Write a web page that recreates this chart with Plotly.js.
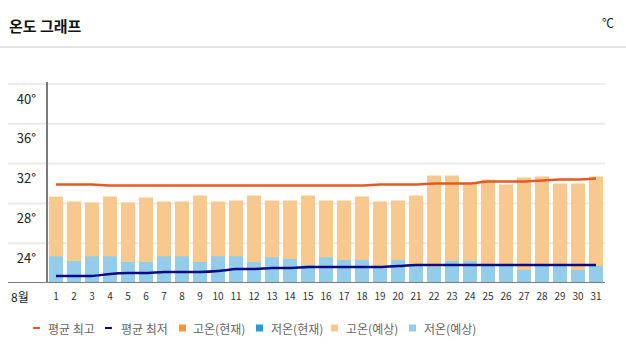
<!DOCTYPE html>
<html>
<head>
<meta charset="utf-8">
<script src="https://cdn.plot.ly/plotly-3.0.1.min.js"></script>
<style>html,body{margin:0;padding:0;background:#fff;}#chart{width:626px;height:357px;}</style>
</head>
<body>
<div id="chart"></div>
<script>
// ---- data ----
var days = [1,2,3,4,5,6,7,8,9,10,11,12,13,14,15,16,17,18,19,20,21,22,23,24,25,26,27,28,29,30,31];
var highForecast = [28.7,28.2,28.1,28.7,28.1,28.6,28.2,28.2,28.8,28.2,28.3,28.8,28.3,28.3,28.8,28.3,28.3,28.7,28.2,28.3,28.8,30.8,30.8,30.0,30.4,29.9,30.6,30.7,30.0,30.0,30.7];
var lowForecast  = [22.7,22.2,22.7,22.7,22.1,22.1,22.7,22.7,22.1,22.7,22.7,22.1,22.6,22.4,21.8,22.6,22.3,22.3,21.7,22.3,21.8,21.6,22.2,22.2,21.7,21.7,21.3,21.7,21.7,21.3,21.7];
var avgHigh = [29.9,29.9,29.9,29.8,29.8,29.8,29.8,29.8,29.8,29.8,29.8,29.8,29.8,29.8,29.8,29.8,29.8,29.8,29.9,29.9,29.9,30.0,30.0,30.0,30.2,30.2,30.2,30.3,30.4,30.4,30.5];
var avgLow  = [20.7,20.7,20.7,20.9,21.0,21.0,21.1,21.1,21.1,21.2,21.4,21.4,21.5,21.5,21.6,21.6,21.6,21.6,21.6,21.7,21.8,21.8,21.8,21.8,21.8,21.8,21.8,21.8,21.8,21.8,21.8];
var highNow = [];
var lowNow = [];
var yTicks = [20,24,28,32,36,40];
var yTickText = ['','24°','28°','32°','36°','40°'];
var dayLabels = days.map(String);
var title = '온도 그래프';
var unit = '℃';
var monthLabel = '8월';
var legendNames = ['평균 최고','평균 최저','고온(현재)','저온(현재)','고온(예상)','저온(예상)'];

// ---- styles ----
var C = {avgHigh:'#E35B24', avgLow:'#0B0B85', highNow:'#F7983F', lowNow:'#2C9AD5', highFc:'#F8C98F', lowFc:'#94CDEA'};
var W = 626, H = 357, L = 47, R = 605, T = 82, B = 283;
var yMax = 40.2;
function px(x){return (x-L)/(R-L);}
function py(y){return (B-y)/(B-T);}
var font = 'Noto Sans CJK KR, Noto Sans, sans-serif';

var traces = [
  {type:'bar', x:days, y:highForecast, marker:{color:C.highFc}, width:0.78, showlegend:false, hoverinfo:'skip'},
  {type:'bar', x:days, y:lowForecast, marker:{color:C.lowFc}, width:0.78, showlegend:false, hoverinfo:'skip'},
  {type:'bar', x:highNow.map(function(v,i){return days[i];}), y:highNow, marker:{color:C.highNow}, width:0.78, showlegend:false},
  {type:'bar', x:lowNow.map(function(v,i){return days[i];}), y:lowNow, marker:{color:C.lowNow}, width:0.78, showlegend:false},
  {type:'scatter', mode:'lines', x:days, y:avgHigh, line:{color:C.avgHigh, width:2.5, shape:'spline', smoothing:0.5}, showlegend:false},
  {type:'scatter', mode:'lines', x:days, y:avgLow, line:{color:C.avgLow, width:2.5, shape:'spline', smoothing:0.5}, showlegend:false}
];

var shapes = [];
var annotations = [];
// separator under title
shapes.push({type:'line', xref:'paper', yref:'paper', x0:px(0), x1:px(W), y0:py(47), y1:py(47), line:{color:'#dcdcdc', width:1.5}});
// gridlines
yTicks.forEach(function(v){
  if (v === yTicks[0]) return;
  shapes.push({type:'line', xref:'paper', yref:'y', x0:px(8), x1:1, y0:v, y1:v, line:{color:'#ececec', width:2}, layer:'below'});
});
// bottom axis line
shapes.push({type:'line', xref:'paper', yref:'y', x0:px(8), x1:1, y0:yTicks[0], y1:yTicks[0], line:{color:'#7a7a7a', width:2}, layer:'above'});
// left axis line
shapes.push({type:'line', xref:'paper', yref:'paper', x0:0, x1:0, y0:0, y1:1, line:{color:'#7a7a7a', width:2}, layer:'above'});

annotations.push({xref:'paper', yref:'paper', x:px(7), y:py(25), xanchor:'left', yanchor:'middle', text:'<b>'+title+'</b>', showarrow:false, font:{family:font, size:15, color:'#111'}});
annotations.push({xref:'paper', yref:'paper', x:px(616), y:py(22), xanchor:'right', yanchor:'middle', text:unit, showarrow:false, font:{family:font, size:12, color:'#222'}});
annotations.push({xref:'paper', yref:'paper', x:px(20), y:py(296), xanchor:'center', yanchor:'middle', text:monthLabel, showarrow:false, font:{family:font, size:12, color:'#222'}});

// custom legend
var legY = 328;
var legItems = [
  {kind:'dash', color:C.avgHigh, mx:33, tx:46},
  {kind:'dash', color:C.avgLow, mx:105, tx:119},
  {kind:'sq', color:C.highNow, mx:179, tx:191},
  {kind:'sq', color:C.lowNow, mx:256, tx:269},
  {kind:'sq', color:C.highFc, mx:331, tx:344},
  {kind:'sq', color:C.lowFc, mx:409, tx:422}
];
legItems.forEach(function(it, i){
  if (it.kind === 'dash') {
    shapes.push({type:'line', xref:'paper', yref:'paper', x0:px(it.mx), x1:px(it.mx+7), y0:py(legY), y1:py(legY), line:{color:it.color, width:2}});
  } else {
    shapes.push({type:'rect', xref:'paper', yref:'paper', x0:px(it.mx), x1:px(it.mx+7), y0:py(legY+3.5), y1:py(legY-3.5), line:{width:0}, fillcolor:it.color});
  }
  annotations.push({xref:'paper', yref:'paper', x:px(it.tx), y:py(legY), xanchor:'left', yanchor:'middle', text:legendNames[i], showarrow:false, font:{family:font, size:12, color:'#666'}});
});

var layout = {
  width:W, height:H,
  margin:{l:L, r:W-R, t:T, b:H-B, pad:0},
  paper_bgcolor:'#fff', plot_bgcolor:'#fff',
  barmode:'overlay',
  showlegend:false,
  xaxis:{range:[0.5,31.5], tickvals:days, ticktext:dayLabels, showgrid:false, zeroline:false, showline:false, ticks:'', ticklabelstandoff:6, tickfont:{family:font, size:10, color:'#333'}, fixedrange:true},
  yaxis:{range:[yTicks[0], yMax], tickvals:yTicks, ticktext:yTickText, showgrid:false, zeroline:false, showline:false, ticks:'', ticklabelshift:15, ticklabelstandoff:10, tickfont:{family:font, size:13, color:'#222'}, fixedrange:true},
  shapes:shapes,
  annotations:annotations
};

Plotly.newPlot('chart', traces, layout, {displayModeBar:false, staticPlot:true});
</script>
</body>
</html>
